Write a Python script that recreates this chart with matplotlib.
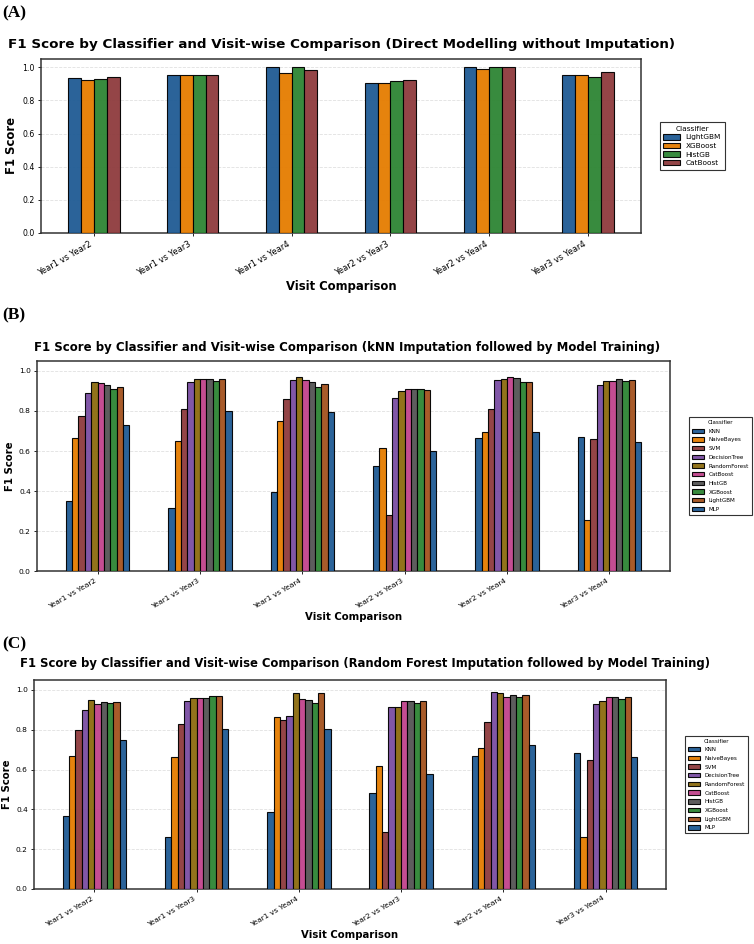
import numpy as np
import matplotlib
matplotlib.use('Agg')
import matplotlib.pyplot as plt

comparisons = ['Year1 vs Year2', 'Year1 vs Year3', 'Year1 vs Year4',
               'Year2 vs Year3', 'Year2 vs Year4', 'Year3 vs Year4']

# (A) direct modelling
models_a = ['LightGBM', 'XGBoost', 'HistGB', 'CatBoost']
lightgbm_a = [0.933, 0.954, 1.000, 0.907, 1.000, 0.954]
xgboost_a = [0.923, 0.952, 0.964, 0.907, 0.990, 0.952]
histgb_a = [0.927, 0.952, 1.000, 0.919, 1.000, 0.940]
catboost_a = [0.941, 0.952, 0.982, 0.923, 1.000, 0.974]

# (B) kNN imputation, (C) random forest imputation
models_bc = ['KNN', 'NaiveBayes', 'SVM', 'DecisionTree', 'RandomForest',
             'CatBoost', 'HistGB', 'XGBoost', 'LightGBM', 'MLP']
knn_b = [0.352, 0.313, 0.397, 0.523, 0.667, 0.670]
nb_b = [0.663, 0.652, 0.749, 0.616, 0.695, 0.256]
svm_b = [0.777, 0.811, 0.858, 0.281, 0.811, 0.660]
dt_b = [0.891, 0.943, 0.953, 0.863, 0.953, 0.928]
rf_b = [0.943, 0.958, 0.972, 0.898, 0.960, 0.950]
cat_b = [0.940, 0.960, 0.953, 0.911, 0.972, 0.950]
hist_b = [0.928, 0.960, 0.943, 0.911, 0.963, 0.961]
xgb_b = [0.908, 0.950, 0.918, 0.911, 0.943, 0.950]
lgbm_b = [0.920, 0.960, 0.935, 0.905, 0.946, 0.953]
mlp_b = [0.729, 0.799, 0.796, 0.598, 0.693, 0.643]

knn_c = [0.367, 0.263, 0.389, 0.482, 0.666, 0.685]
nb_c = [0.666, 0.663, 0.866, 0.619, 0.706, 0.260]
svm_c = [0.799, 0.829, 0.851, 0.284, 0.841, 0.646]
dt_c = [0.898, 0.946, 0.871, 0.916, 0.992, 0.928]
rf_c = [0.951, 0.960, 0.983, 0.916, 0.983, 0.946]
cat_c = [0.930, 0.961, 0.953, 0.946, 0.966, 0.963]
hist_c = [0.941, 0.961, 0.950, 0.946, 0.973, 0.963]
xgb_c = [0.936, 0.968, 0.933, 0.936, 0.965, 0.953]
lgbm_c = [0.941, 0.968, 0.985, 0.946, 0.973, 0.965]
mlp_c = [0.748, 0.805, 0.805, 0.579, 0.725, 0.661]

colors_a = ['#1f5b94', '#e57c00', '#2d8533', '#8e3b3d']
colors_bc = ['#1f5b94', '#e57c00', '#8e3b3d', '#7a4ea2', '#8c6b0e',
             '#c1438c', '#545454', '#2d8533', '#a4521e', '#1f5b94']

titles = [
    'F1 Score by Classifier and Visit-wise Comparison (Direct Modelling without Imputation)',
    'F1 Score by Classifier and Visit-wise Comparison (kNN Imputation followed by Model Training)',
    'F1 Score by Classifier and Visit-wise Comparison (Random Forest Imputation followed by Model Training)',
]


def draw_panel(ax, models, series, colors, width, title, sizes):
    title_fs, label_fs, xtick_fs, ytick_fs, leg_fs, pad, lspace, title_x = sizes
    x = np.arange(len(comparisons))
    n = len(models)
    for i, (name, vals, col) in enumerate(zip(models, series, colors)):
        ax.bar(x + (i - (n - 1) / 2) * width, vals, width, label=name,
               color=col, edgecolor='black', linewidth=0.8, alpha=0.95, zorder=3)
    ax.set_xticks(x)
    ax.set_xticklabels(comparisons, rotation=30, ha='right', fontsize=xtick_fs)
    ax.tick_params(axis='y', labelsize=ytick_fs, length=2.5, width=0.6, pad=2)
    ax.tick_params(axis='x', length=2.5, width=0.6, pad=2)
    ax.set_ylim(0, 1.05)
    ax.set_yticks([0.0, 0.2, 0.4, 0.6, 0.8, 1.0])
    ax.set_ylabel('F1 Score', fontsize=label_fs, fontweight='bold', labelpad=3)
    ax.set_xlabel('Visit Comparison', fontsize=label_fs, fontweight='bold', labelpad=2)
    ax.set_title(title, fontsize=title_fs, fontweight='bold', pad=pad, x=title_x)
    ax.grid(axis='y', linestyle='--', linewidth=0.6, color='#cccccc', alpha=0.6, zorder=0)
    for s in ax.spines.values():
        s.set_linewidth(1.1)
        s.set_color('#333333')
    leg = ax.legend(title='Classifier', loc='center left', bbox_to_anchor=(1.025, 0.5),
                    fontsize=leg_fs, title_fontsize=leg_fs, fancybox=False,
                    edgecolor='#333333', framealpha=1, handlelength=2.2,
                    handleheight=0.8, borderpad=0.5, labelspacing=lspace)
    leg.get_frame().set_linewidth(0.8)


fig = plt.figure(figsize=(7.54, 9.44), dpi=100)

ax_a = fig.add_axes([0.0544, 0.7532, 0.7958, 0.1843])
ax_b = fig.add_axes([0.0491, 0.3951, 0.8395, 0.2225])
ax_c = fig.add_axes([0.0451, 0.0583, 0.8382, 0.2214])

draw_panel(ax_a, models_a, [lightgbm_a, xgboost_a, histgb_a, catboost_a],
           colors_a, 0.13, titles[0], (9.7, 8.4, 6.0, 5.6, 5.3, 8, 0.3, 0.5))
draw_panel(ax_b, models_bc,
           [knn_b, nb_b, svm_b, dt_b, rf_b, cat_b, hist_b, xgb_b, lgbm_b, mlp_b],
           colors_bc, 0.062, titles[1], (8.5, 7.3, 5.4, 5.4, 4.1, 7, 0.62, 0.49))
draw_panel(ax_c, models_bc,
           [knn_c, nb_c, svm_c, dt_c, rf_c, cat_c, hist_c, xgb_c, lgbm_c, mlp_c],
           colors_bc, 0.062, titles[2], (8.4, 7.3, 5.4, 5.4, 4.1, 9, 0.62, 0.524))

for label, y in [('(A)', 0.994), ('(B)', 0.674), ('(C)', 0.326)]:
    fig.text(0.003, y, label, fontsize=12.5, fontweight='bold',
             family='Liberation Serif', va='top', ha='left')

fig.savefig('out.png', dpi=100)
